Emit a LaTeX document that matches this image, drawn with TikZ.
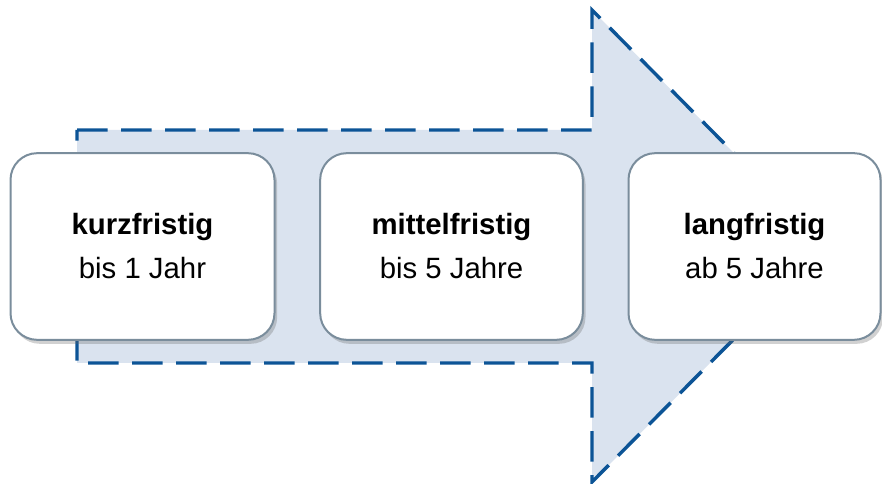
\documentclass[tikz,border=0pt]{standalone}
\usepackage{fontspec}
\setmainfont{Liberation Sans}
\usetikzlibrary{shadows}
\definecolor{arrowblue}{RGB}{12,84,150}
\definecolor{arrowfill}{RGB}{218,227,239}
\definecolor{boxline}{RGB}{122,141,156}
\tikzset{
  bigarrow/.style={fill=arrowfill, draw=arrowblue, line width=2.6pt, dash pattern=on 23pt off 10pt},
  termbox/.style={draw=boxline, fill=white, line width=1.5pt, rounded corners=20pt,
    minimum height=140pt, inner sep=0pt, align=center,
    font=\fontsize{22}{33}\selectfont,
    drop shadow={shadow xshift=2pt, shadow yshift=-3pt, opacity=0.3, fill=black!60}},
}
\begin{document}
\begin{tikzpicture}[x=0.75pt,y=-0.75pt]
\useasboundingbox (0,0) rectangle (882,484);
\draw[bigarrow] (77,130) -- (592,130) -- (592,10) -- (826,246) -- (592,482) -- (592,363) -- (77,363) -- cycle;
\node[termbox, minimum width=198pt] (k) at (142.5,246.5) {\textbf{kurzfristig}\\bis 1 Jahr};
\node[termbox, minimum width=197pt] (m) at (451.5,246.5) {\textbf{mittelfristig}\\bis 5 Jahre};
\node[termbox, minimum width=189pt] (l) at (754.5,246.5) {\textbf{langfristig}\\ab 5 Jahre};
\end{tikzpicture}
\end{document}
